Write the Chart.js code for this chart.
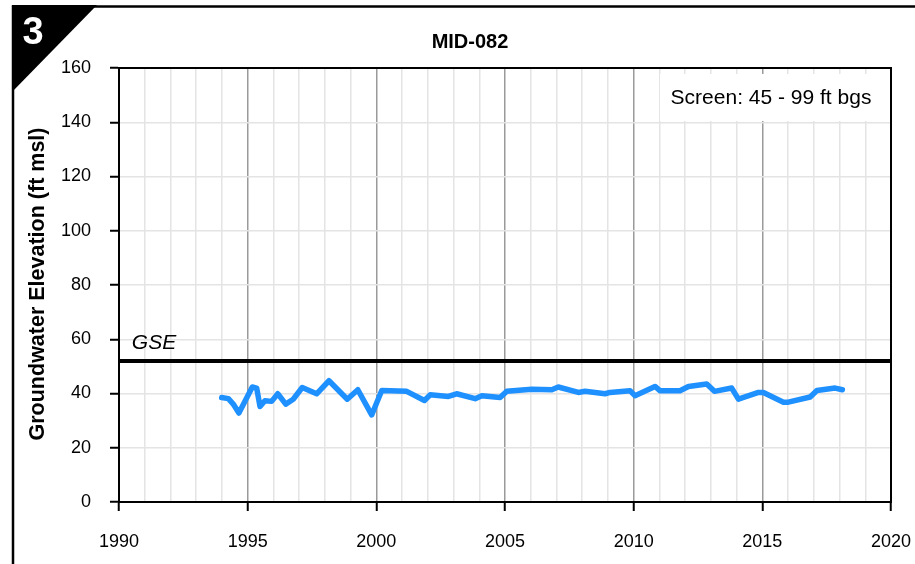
<!DOCTYPE html>
<html>
<head>
<meta charset="utf-8">
<script src="https://cdn.jsdelivr.net/npm/chart.js@4/dist/chart.umd.min.js"></script>
<style>
  html, body { margin: 0; padding: 0; background: #fff; }
  canvas { display: block; }
</style>
</head>
<body>
<canvas id="c" width="915" height="564"></canvas>
<script>
// Hydrograph panel for well MID-082
const panelNumber = '3';
const wellName = 'MID-082';
const screenNote = 'Screen: 45 - 99 ft bgs';
const yAxisTitle = 'Groundwater Elevation (ft msl)';
const gseLabel = 'GSE';
const gseElevation = 52;

// Measurement dates (decimal years) and groundwater elevations (ft msl)
const measureDates = [
  1993.99, 1994.25, 1994.44, 1994.66, 1995.18, 1995.35, 1995.48, 1995.67, 1995.93,
  1996.17, 1996.48, 1996.77, 1997.12, 1997.68, 1998.16, 1998.87, 1999.28, 1999.82,
  2000.21, 2001.18, 2001.87, 2002.09, 2002.80, 2003.12, 2003.84, 2004.10, 2004.81,
  2005.07, 2006.04, 2006.82, 2007.07, 2007.85, 2008.11, 2008.89, 2009.08, 2009.86,
  2010.05, 2010.83, 2011.03, 2011.80, 2012.13, 2012.84, 2013.14, 2013.81, 2014.07,
  2014.85, 2015.04, 2015.82, 2016.01, 2016.86, 2017.12, 2017.83, 2018.11
];
const gwElevations = [
  38.5, 38.1, 36.1, 32.8, 42.4, 42.0, 35.2, 37.3, 37.1,
  39.9, 36.1, 37.9, 42.2, 39.9, 44.7, 37.9, 41.4, 32.1,
  41.1, 40.8, 37.4, 39.5, 38.9, 39.9, 38.1, 39.2, 38.5,
  40.8, 41.6, 41.4, 42.4, 40.4, 40.8, 39.9, 40.4, 41.0,
  39.2, 42.6, 41.0, 41.0, 42.6, 43.5, 40.8, 42.0, 37.9,
  40.4, 40.4, 36.8, 36.8, 38.7, 41.1, 42.0, 41.4
];

// Axis ranges and labelled ticks
const xMin = 1990, xMax = 2020, xMajorStep = 5;
const yMin = 0, yMax = 160, yStep = 20;

const FONT = "'Liberation Sans', Arial, sans-serif";

const seriesPoints = measureDates.map((d, i) => ({ x: d, y: gwElevations[i] }));
const gsePoints = [{ x: xMin, y: gseElevation }, { x: xMax, y: gseElevation }];

const isMajorYear = v => Math.abs(v % xMajorStep) < 1e-6;

const decorations = {
  id: 'decorations',
  afterDraw(chart) {
    const { ctx, chartArea: a } = chart;
    const xs = chart.scales.x, ys = chart.scales.y;
    ctx.save();

    // plot frame
    ctx.strokeStyle = '#000';
    ctx.lineWidth = 2;
    ctx.strokeRect(a.left, a.top, a.right - a.left, a.bottom - a.top);

    // outer panel frame
    ctx.lineWidth = 2.5;
    ctx.beginPath();
    ctx.moveTo(13, 564);
    ctx.lineTo(13, 6.5);
    ctx.lineTo(915, 6.5);
    ctx.stroke();

    // panel number badge
    ctx.fillStyle = '#000';
    ctx.beginPath();
    ctx.moveTo(12, 5);
    ctx.lineTo(97, 5);
    ctx.lineTo(12, 92);
    ctx.closePath();
    ctx.fill();
    ctx.fillStyle = '#fff';
    ctx.font = `bold 38px ${FONT}`;
    ctx.textAlign = 'center';
    ctx.textBaseline = 'middle';
    ctx.fillText(panelNumber, 33, 34);

    // chart title
    ctx.fillStyle = '#000';
    ctx.font = `bold 20px ${FONT}`;
    ctx.fillText(wellName, 470, 42);

    // y axis title
    ctx.save();
    ctx.translate(38, 284);
    ctx.rotate(-Math.PI / 2);
    ctx.font = `bold 21.5px ${FONT}`;
    ctx.fillText(yAxisTitle, 0, 0);
    ctx.restore();

    // screen interval note
    ctx.fillStyle = '#fff';
    ctx.fillRect(660, 74, 227, 47);
    ctx.fillStyle = '#000';
    ctx.font = `21px ${FONT}`;
    ctx.fillText(screenNote, 771, 98);

    // ground surface label
    ctx.font = `italic 21px ${FONT}`;
    ctx.textAlign = 'left';
    ctx.textBaseline = 'alphabetic';
    ctx.fillText(gseLabel, xs.getPixelForValue(1990.5), ys.getPixelForValue(gseElevation) - 12);

    ctx.restore();
  }
};

new Chart(document.getElementById('c'), {
  type: 'line',
  data: {
    datasets: [
      {
        label: 'Groundwater elevation',
        data: seriesPoints,
        borderColor: 'rgb(30,144,255)',
        borderWidth: 5.5,
        pointRadius: 0,
        tension: 0,
        borderJoinStyle: 'round',
        borderCapStyle: 'round'
      },
      {
        label: gseLabel,
        data: gsePoints,
        borderColor: '#000',
        borderWidth: 4,
        pointRadius: 0,
        tension: 0
      }
    ]
  },
  options: {
    responsive: false,
    animation: false,
    devicePixelRatio: 1,
    layout: { padding: { left: 0, top: 68, right: 24, bottom: 0 } },
    plugins: {
      legend: { display: false },
      tooltip: { enabled: false },
      title: { display: false }
    },
    scales: {
      x: {
        type: 'linear',
        min: xMin,
        max: xMax,
        afterFit(scale) {
          scale.height = 62;
          scale.paddingLeft = 0;
          scale.paddingRight = 0;
        },
        ticks: {
          stepSize: 1,
          autoSkip: false,
          maxRotation: 0,
          padding: 20,
          color: '#000',
          font: { family: FONT, size: 18 },
          callback: v => (isMajorYear(v) ? String(v) : '')
        },
        grid: {
          drawOnChartArea: true,
          tickLength: 9,
          lineWidth: 1.5,
          color: ctx => (isMajorYear(ctx.tick.value) ? '#9a9a9a' : '#e4e4e4'),
          tickColor: ctx => (isMajorYear(ctx.tick.value) ? '#000' : 'rgba(0,0,0,0)'),
          tickWidth: 2
        },
        border: { color: '#000', width: 2 }
      },
      y: {
        min: yMin,
        max: yMax,
        afterFit(scale) {
          scale.width = 119;
          scale.paddingTop = 0;
          scale.paddingBottom = 0;
        },
        ticks: {
          stepSize: yStep,
          padding: 19,
          color: '#000',
          font: { family: FONT, size: 18 }
        },
        grid: {
          tickLength: 9,
          lineWidth: 1.5,
          color: '#e4e4e4',
          tickColor: '#000',
          tickWidth: 2
        },
        border: { color: '#000', width: 2 }
      }
    }
  },
  plugins: [decorations]
});
</script>
</body>
</html>
